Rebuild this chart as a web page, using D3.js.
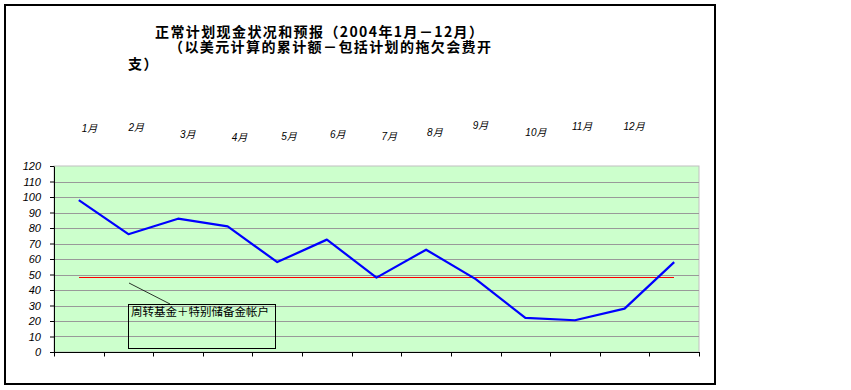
<!DOCTYPE html>
<html lang="zh">
<head>
<meta charset="utf-8">
<title>正常计划现金状况和预报</title>
<script src="https://cdn.jsdelivr.net/npm/d3@7"></script>
<style>
  body { margin: 0; background: #fff; }
  svg { display: block; }
</style>
</head>
<body>
<div id="chart"></div>
<script>
// data (13 category slots on the x axis)
var categories = ["1", "2", "3", "4", "5", "6", "7", "8", "9", "10", "11", "12", "13"];
var cashValues = [98, 76, 86, 81, 58, 72.5, 48, 66, 47, 22, 20.5, 28, 58];
var reserveValues = [48.2, 48.2, 48.2, 48.2, 48.2, 48.2, 48.2, 48.2, 48.2, 48.2, 48.2, 48.2, 48.2];
var monthLabels = ["1月", "2月", "3月", "4月", "5月", "6月", "7月", "8月", "9月", "10月", "11月", "12月"];
var yTicks = [0, 10, 20, 30, 40, 50, 60, 70, 80, 90, 100, 110, 120];
var titleLines = [
  "正常计划现金状况和预报（2004年1月－12月）",
  "（以美元计算的累计额－包括计划的拖欠会费开",
  "支）"
];
var noteText = "周转基金＋特别储备金帐户";

var w = 851, h = 390;
var plot = { left: 54, right: 699, top: 166, bottom: 352 };

// month labels float above the plot, each nudged a bit (dx from point, y)
var monthLabelPos = [
  [3, 128], [0, 127], [2, 134], [4, 137], [4, 136], [3, 134],
  [5, 136], [1, 132], [-3, 125], [0, 132], [-3, 126], [-1, 126]
];
var titlePos = [[155, 37], [169, 52], [128, 69]];

var svg = d3.select("#chart")
  .append("svg")
  .attr("width", w)
  .attr("height", h);

// outer frame
svg.append("rect")
  .attr("x", 5).attr("y", 5)
  .attr("width", 710).attr("height", 379)
  .attr("fill", "none")
  .attr("stroke", "#000")
  .attr("stroke-width", 2);

var xScale = d3.scaleBand()
  .domain(categories)
  .range([plot.left, plot.right])
  .padding(0);

var yScale = d3.scaleLinear()
  .domain([0, 120])
  .range([plot.bottom, plot.top]);

var half = xScale.bandwidth() / 2;

// plot background
svg.append("rect")
  .attr("x", plot.left)
  .attr("y", plot.top)
  .attr("width", plot.right - plot.left)
  .attr("height", plot.bottom - plot.top)
  .attr("fill", "#ccffcc")
  .attr("stroke", "#c0c0c0")
  .attr("stroke-width", 1);

// gridlines
svg.append("g")
  .selectAll("line")
  .data(yTicks.filter(function(d) { return d > 0 && d < 120; }))
  .enter()
  .append("line")
  .attr("x1", plot.left)
  .attr("x2", plot.right)
  .attr("y1", function(d) { return Math.round(yScale(d)) + 0.5; })
  .attr("y2", function(d) { return Math.round(yScale(d)) + 0.5; })
  .attr("stroke", "#999")
  .attr("stroke-width", 1);

// y axis
var yAxis = svg.append("g")
  .attr("transform", "translate(" + plot.left + ",0)")
  .call(d3.axisLeft(yScale).tickValues(yTicks).tickSize(4).tickSizeOuter(0).tickPadding(9));
yAxis.select(".domain").attr("stroke", "#000");
yAxis.selectAll("text")
  .style("font-family", "Arial, 'Liberation Sans', sans-serif")
  .style("font-size", "11px")
  .style("font-style", "italic")
  .attr("fill", "#000");

// x axis with ticks between categories
var xBounds = categories.map(function(c) { return xScale(c); }).concat([xScale.range()[1]]);
var xAxis = svg.append("g");
xAxis.append("line")
  .attr("x1", plot.left).attr("x2", plot.right)
  .attr("y1", plot.bottom + 0.5).attr("y2", plot.bottom + 0.5)
  .attr("stroke", "#000");
xAxis.selectAll(".tick")
  .data(xBounds)
  .enter()
  .append("line")
  .attr("class", "tick")
  .attr("x1", function(d) { return Math.round(d) + 0.5; })
  .attr("x2", function(d) { return Math.round(d) + 0.5; })
  .attr("y1", plot.bottom)
  .attr("y2", plot.bottom + 4.5)
  .attr("stroke", "#000");

// reserve line (red)
var line = d3.line()
  .x(function(d, i) { return xScale(categories[i]) + half; })
  .y(function(d) { return yScale(d); });

svg.append("path")
  .datum(reserveValues)
  .attr("d", line)
  .attr("fill", "none")
  .attr("stroke", "#ff0000")
  .attr("stroke-width", 1)
  .attr("shape-rendering", "crispEdges");

// cash line (blue)
svg.append("path")
  .datum(cashValues)
  .attr("d", line)
  .attr("fill", "none")
  .attr("stroke", "#0000ff")
  .attr("stroke-width", 2.2)
  .attr("stroke-linejoin", "round");

// annotation box + leader
svg.append("line")
  .attr("x1", 129).attr("y1", 283)
  .attr("x2", 170).attr("y2", 304)
  .attr("stroke", "#000")
  .attr("stroke-width", 0.8);
svg.append("rect")
  .attr("x", 128.5).attr("y", 304.5)
  .attr("width", 147).attr("height", 44)
  .attr("fill", "none")
  .attr("stroke", "#000")
  .attr("stroke-width", 1);
svg.append("text")
  .attr("x", 131)
  .attr("y", 316)
  .text(noteText)
  .style("font-family", "'Noto Sans CJK SC', sans-serif")
  .style("font-size", "11.5px")
  .attr("fill", "#000");

// month labels
svg.append("g")
  .selectAll("text")
  .data(monthLabels)
  .enter()
  .append("text")
  .attr("x", function(d, i) { return xScale(categories[i]) + half + monthLabelPos[i][0]; })
  .attr("y", function(d, i) { return monthLabelPos[i][1] + 4; })
  .text(function(d) { return d; })
  .style("font-family", "Arial, 'Liberation Sans', 'Noto Sans CJK SC', sans-serif")
  .style("font-size", "10px")
  .style("font-style", "italic")
  .attr("fill", "#000");

// title: one text element, wrapped into three lines
var title = svg.append("text")
  .style("font-family", "'Noto Sans CJK SC', sans-serif")
  .style("font-size", "14px")
  .style("font-weight", "bold")
  .style("letter-spacing", "1.4px")
  .attr("fill", "#000");
title.selectAll("tspan")
  .data(titleLines)
  .enter()
  .append("tspan")
  .attr("x", function(d, i) { return titlePos[i][0]; })
  .attr("y", function(d, i) { return titlePos[i][1]; })
  .text(function(d) { return d; });
</script>
</body>
</html>
